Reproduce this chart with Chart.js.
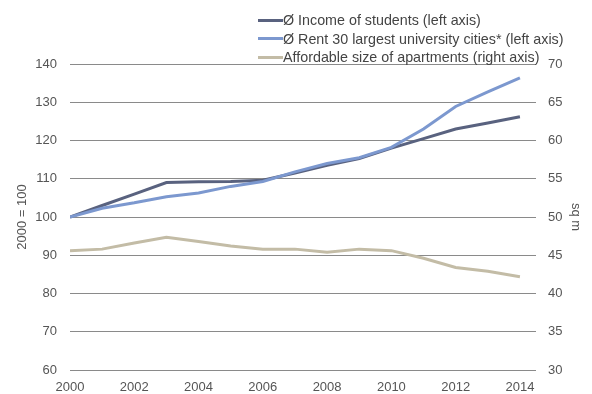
<!DOCTYPE html>
<html>
<head>
<meta charset="utf-8">
<script src="https://cdn.jsdelivr.net/npm/chart.js@4.4.0/dist/chart.umd.min.js"></script>
<style>
  html, body { margin: 0; padding: 0; background: #fff; }
  #wrap { position: relative; width: 592px; height: 394px; overflow: hidden; }
  #legend { position: absolute; left: 258px; top: 11px; font-family: "Liberation Sans", Arial, sans-serif; font-size: 14.3px; color: #444; }
  #legend div { height: 18.5px; line-height: 18.5px; white-space: nowrap; }
  #legend span.sw { display: inline-block; width: 25px; height: 3px; vertical-align: middle; position: relative; top: -1px; }
</style>
</head>
<body>
<div id="wrap">
  <canvas id="grafico" width="592" height="394"></canvas>
  <div id="legend"></div>
</div>
<script>
// dados
const anos = [2000, 2001, 2002, 2003, 2004, 2005, 2006, 2007, 2008, 2009, 2010, 2011, 2012, 2013, 2014];
const renda = [100, 103, 106, 109, 109.2, 109.3, 109.6, 111.5, 113.5, 115.3, 118, 120.5, 123, 124.6, 126.2];
const aluguel = [100, 102.3, 103.7, 105.3, 106.3, 108, 109.3, 111.8, 114, 115.5, 118.2, 123, 128.9, 132.7, 136.4];
const tamanho = [45.6, 45.8, 46.6, 47.35, 46.8, 46.2, 45.8, 45.8, 45.4, 45.8, 45.6, 44.6, 43.4, 42.9, 42.2];
const ticksX = [2000, 2002, 2004, 2006, 2008, 2010, 2012, 2014];
const series = [
    { nome: 'Ø Income of students (left axis)', valores: renda, cor: '#59627f', eixo: 'y' },
    { nome: 'Ø Rent 30 largest university cities* (left axis)', valores: aluguel, cor: '#7c98cf', eixo: 'y' },
    { nome: 'Affordable size of apartments (right axis)', valores: tamanho, cor: '#c3bca6', eixo: 'y1' }
];

const fonteTicks = { family: '"Liberation Sans", Arial, sans-serif', size: 13 };

const chart = new Chart(document.getElementById('grafico').getContext('2d'), {
    type: 'line',
    data: {
        datasets: series.map(s => ({
            label: s.nome,
            data: anos.map((a, i) => ({ x: a, y: s.valores[i] })),
            borderColor: s.cor,
            borderWidth: 3,
            pointRadius: 0,
            tension: 0,
            yAxisID: s.eixo
        })).reverse()
    },
    options: {
        responsive: false,
        animation: false,
        layout: { padding: { top: 64, left: 0, right: 0, bottom: 0 } },
        plugins: { legend: { display: false }, tooltip: { enabled: false } },
        scales: {
            x: {
                type: 'linear',
                min: 2000,
                max: 2014.5,
                afterBuildTicks: axis => { axis.ticks = ticksX.map(v => ({ value: v })); },
                afterFit: axis => { axis.height = 24; },
                grid: { display: false, drawTicks: false },
                border: { display: false },
                ticks: { color: '#555', font: fonteTicks, padding: 10, maxRotation: 0, callback: v => String(v) }
            },
            y: {
                position: 'left',
                min: 60, max: 140,
                afterFit: axis => { axis.width = 70; },
                ticks: { stepSize: 10, color: '#555', font: fonteTicks, padding: 13 },
                grid: { color: '#8a8a8a', lineWidth: 1, drawTicks: false },
                border: { display: false },
                title: { display: true, text: '2000 = 100', color: '#555', font: fonteTicks, padding: { top: 15, bottom: 0 } }
            },
            y1: {
                position: 'right',
                min: 30, max: 70,
                afterFit: axis => { axis.width = 56; },
                ticks: { stepSize: 5, color: '#555', font: fonteTicks, padding: 12 },
                grid: { display: false, drawTicks: false },
                border: { display: false },
                title: { display: true, text: 'sq m', color: '#555', font: fonteTicks, padding: { top: 9, bottom: 0 } }
            }
        }
    }
});

// legenda em HTML, uma série por linha
const leg = document.getElementById('legend');
series.forEach(s => {
    const d = document.createElement('div');
    d.innerHTML = `<span class="sw" style="background:${s.cor}"></span>${s.nome}`;
    leg.appendChild(d);
});
</script>
</body>
</html>
